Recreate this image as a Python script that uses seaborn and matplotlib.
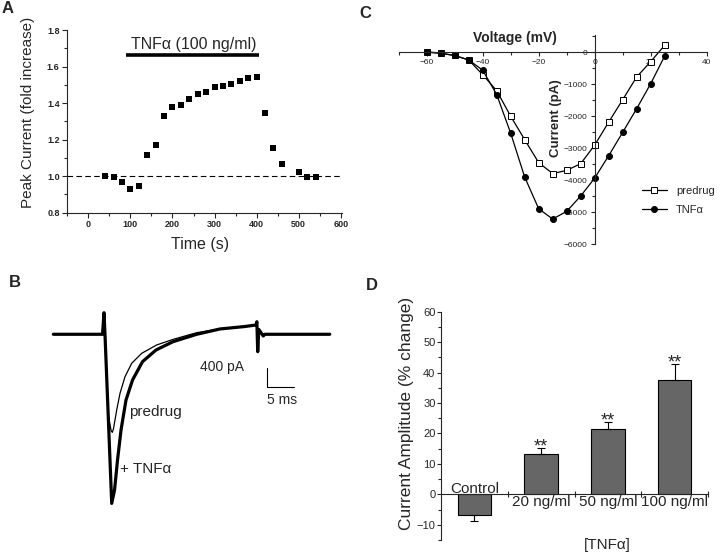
import matplotlib
matplotlib.use('Agg')
import matplotlib.pyplot as plt
import seaborn as sns
import pandas as pd
from matplotlib.ticker import MultipleLocator

# ---------------- data ----------------
# Panel A: time course of peak current
time_s = [40, 60, 80, 100, 120, 140, 160, 180, 200, 220, 240, 260, 280, 300,
          320, 340, 360, 380, 400, 420, 440, 460, 500, 520, 540]
fold_increase = [1.000, 0.995, 0.968, 0.928, 0.948, 1.114, 1.169, 1.329, 1.377,
                 1.389, 1.424, 1.448, 1.462, 1.486, 1.492, 1.506, 1.521, 1.539,
                 1.541, 1.347, 1.154, 1.065, 1.021, 0.995, 0.993]
a_xticks = [0, 100, 200, 300, 400, 500, 600]
a_yticks = [0.8, 1.0, 1.2, 1.4, 1.6, 1.8]
tnf_period_s = [90, 405]
tnf_bar_level = 1.663

# Panel C: I-V relationship
voltage_mV = [-60, -55, -50, -45, -40, -35, -30, -25, -20, -15, -10, -5, 0, 5, 10, 15, 20, 25]
predrug_pA = [20, -30, -100, -240, -700, -1200, -2000, -2730, -3450, -3790, -3690,
              -3480, -2900, -2180, -1480, -770, -290, 220]
tnf_pA = [0, -30, -100, -240, -560, -1320, -2530, -3900, -4890, -5210, -4970,
          -4490, -3930, -3230, -2500, -1760, -980, -115]
c_xticks = [-60, -40, -20, 0, 20, 40]
c_yticks = [-6000, -5000, -4000, -3000, -2000, -1000, 0]

# Panel B: current traces (ms, pA)
b_time_tnf = [0, 8.88, 9.15, 9.33, 10.54, 11.05, 11.59, 12.22, 13.12, 14.30, 16.10,
              18.54, 21.61, 25.88, 30.09, 34.6, 36.6, 36.75, 36.9, 37.1, 37.9, 38.2, 49.9]
b_curr_tnf = [0, 0, 447, -14, -3500, -3223, -2602, -1981, -1360, -946, -567,
              -325, -153, 0, 110, 161, 193, 260, -360, 100, -35, 0, 0]
b_time_pre = [0, 8.88, 9.15, 9.33, 9.95, 10.45, 10.65, 10.85, 11.44, 12.04, 12.94,
              14.15, 15.96, 18.66, 21.66, 25.88, 30.09, 34.6, 36.6, 36.75, 36.9,
              37.1, 37.9, 38.2, 49.9]
b_curr_pre = [0, 0, 447, -14, -1700, -2000, -2030, -1960, -1567, -1221, -878,
              -600, -393, -221, -104, 33, 110, 161, 193, 260, -360,
              100, -35, 0, 0]
scale_pA = 400
scale_ms = 5

# Panel D: concentration dependence
d_categories = ['Control', '20 ng/ml', '50 ng/ml', '100 ng/ml']
d_values = [-6.8, 13.3, 21.4, 37.5]
d_errors = [1.9, 1.8, 2.4, 5.4]
d_sig = ['', '**', '**', '**']
d_yticks = [-10, 0, 10, 20, 30, 40, 50, 60]

# ---------------- style ----------------
sns.set_style('ticks')
plt.rcParams['font.family'] = ['Liberation Sans', 'DejaVu Sans']
plt.rcParams['axes.linewidth'] = 0.8
plt.rcParams['xtick.major.width'] = 0.8
plt.rcParams['ytick.major.width'] = 0.8
plt.rcParams['xtick.minor.width'] = 0.8
plt.rcParams['ytick.minor.width'] = 0.8

W, H = 720, 555
fig = plt.figure(figsize=(7.2, 5.55), dpi=100)


def box(l, t, r, b):
    return [l / W, 1 - b / H, (r - l) / W, (b - t) / H]


def fxy(x, y):
    return x / W, 1 - y / H


# ---------------- Panel A ----------------
axA = fig.add_axes(box(67.3, 30, 341.6, 212.7))
dfA = pd.DataFrame({'time': time_s, 'fold': fold_increase})
sns.scatterplot(data=dfA, x='time', y='fold', marker='s', color='black', s=20,
                linewidth=0, ax=axA, zorder=3)
axA.set_xlim(-50, 602)
axA.set_ylim(0.8, 1.8)
axA.axhline(1.0, color='black', lw=0.8, ls=(0, (5, 3)))
axA.plot(tnf_period_s, [tnf_bar_level] * 2, color='black', lw=2.6, solid_capstyle='butt')
axA.text(sum(tnf_period_s) / 2 + 2, 1.718, 'TNFα (100 ng/ml)', ha='center', va='center', fontsize=11.5)
axA.set_xticks(a_xticks)
axA.set_yticks(a_yticks)
axA.set_yticklabels([f'{v:.1f}' for v in a_yticks])
axA.xaxis.set_minor_locator(MultipleLocator(50))
axA.yaxis.set_minor_locator(MultipleLocator(0.1))
axA.tick_params(which='major', length=3.5, labelsize=6.5, pad=2)
axA.tick_params(which='minor', length=2)
for lab in axA.get_xticklabels() + axA.get_yticklabels():
    lab.set_fontweight('bold')
sns.despine(ax=axA)
axA.set_xlabel('')
axA.set_ylabel('')
fig.text(*fxy(27.8, 112.5), 'Peak Current (fold increase)', rotation=90, ha='center', va='center', fontsize=11)
fig.text(*fxy(200, 245), 'Time (s)', ha='center', va='center', fontsize=11.5)

# ---------------- Panel C ----------------
axC = fig.add_axes(box(398.7, 34.7, 706.7, 244.3))
sns.lineplot(x=voltage_mV, y=predrug_pA, ax=axC, color='black', lw=0.9, marker='s',
             markersize=3.8, markerfacecolor='white', markeredgecolor='black',
             markeredgewidth=0.7, label='predrug')
sns.lineplot(x=voltage_mV, y=tnf_pA, ax=axC, color='black', lw=0.9, marker='o',
             markersize=4.3, markerfacecolor='black', markeredgecolor='black',
             markeredgewidth=0.7, label='TNFα')
axC.set_xlim(-70, 40)
axC.set_ylim(-6000, 550)
axC.spines['left'].set_position(('data', 0))
axC.spines['bottom'].set_position(('data', 0))
axC.spines['top'].set_visible(False)
axC.spines['right'].set_visible(False)
axC.set_xticks(c_xticks)
axC.set_yticks(c_yticks)
axC.xaxis.set_minor_locator(MultipleLocator(10))
axC.yaxis.set_minor_locator(MultipleLocator(500))
axC.tick_params(which='major', length=3, labelsize=6, pad=2)
axC.tick_params(which='minor', length=2)
axC.set_xlabel('')
axC.set_ylabel('')
handles, labels = axC.get_legend_handles_labels()
axC.legend(handles, labels, loc='center left', bbox_to_anchor=fxy(641.7, 200.5),
           bbox_transform=fig.transFigure, frameon=False, fontsize=8,
           handlelength=2.3, handletextpad=0.8, labelspacing=0.8,
           borderpad=0, borderaxespad=0)
fig.text(*fxy(515, 38), 'Voltage (mV)', ha='center', va='center', fontsize=10, fontweight='bold')
fig.text(*fxy(556, 118), 'Current (pA)', rotation=90, ha='center', va='center', fontsize=9.5, fontweight='bold')

# ---------------- Panel B ----------------
axB = fig.add_axes(box(47.8, 290.8, 335.8, 517.9))
sns.lineplot(x=b_time_tnf, y=b_curr_tnf, sort=False, estimator=None, color='black',
             lw=2.3, ax=axB)
sns.lineplot(x=b_time_pre, y=b_curr_pre, sort=False, estimator=None, color='black',
             lw=0.9, ax=axB)
axB.set_xlim(-1, 51)
axB.set_ylim(-3800, 900)
axB.axis('off')
sb_x, sb_y = 38.5, -1097
axB.plot([sb_x, sb_x, sb_x + scale_ms], [sb_y + scale_pA, sb_y, sb_y], color='black', lw=0.8)
fig.text(*fxy(222.5, 366.7), f'{scale_pA} pA', ha='center', va='center', fontsize=10)
fig.text(*fxy(282.5, 400), f'{scale_ms} ms', ha='center', va='center', fontsize=10)
fig.text(*fxy(129.5, 412), 'predrug', ha='left', va='center', fontsize=11)
fig.text(*fxy(120, 469), '+ TNFα', ha='left', va='center', fontsize=11)

# ---------------- Panel D ----------------
axD = fig.add_axes(box(441, 311.7, 708, 540))
sns.barplot(x=d_categories, y=d_values, color='#666666', edgecolor='black',
            linewidth=0.8, width=0.5, errorbar=None, saturation=1, ax=axD)
lower = [e if v < 0 else 0 for v, e in zip(d_values, d_errors)]
upper = [e if v > 0 else 0 for v, e in zip(d_values, d_errors)]
axD.errorbar(range(len(d_values)), d_values, yerr=[lower, upper], fmt='none',
             ecolor='black', elinewidth=0.8, capsize=3, capthick=0.8)
axD.set_xlim(-0.5, 3.5)
axD.set_ylim(-15, 60)
axD.spines['bottom'].set_position(('data', 0))
axD.spines['top'].set_visible(False)
axD.spines['right'].set_visible(False)
axD.set_yticks(d_yticks)
axD.yaxis.set_minor_locator(MultipleLocator(5))
axD.set_xticks(range(len(d_categories)))
axD.set_xticklabels([''] + d_categories[1:], fontsize=11)
axD.set_xticks([0.5, 1.5, 2.5, 3.5], minor=True)
axD.tick_params(axis='x', which='major', length=0, pad=0.5)
axD.tick_params(axis='x', which='minor', length=5, direction='inout')
axD.tick_params(axis='y', which='major', length=3, labelsize=8, pad=1)
axD.tick_params(axis='y', which='minor', length=2)
axD.text(0, 0.5, d_categories[0], ha='center', va='baseline', fontsize=11)
for i, (v, e, s) in enumerate(zip(d_values, d_errors, d_sig)):
    if s:
        axD.text(i, v + e + 0.4, s, ha='center', va='center', fontsize=13)
axD.set_xlabel('')
axD.set_ylabel('')
fig.text(*fxy(407, 413), 'Current Amplitude (% change)', rotation=90, ha='center', va='center', fontsize=12.5)
fig.text(*fxy(607, 545), '[TNFα]', ha='center', va='center', fontsize=11)

# ---------------- panel letters ----------------
for letter, (px, py) in {'A': (7.5, 8.5), 'B': (15.3, 282.5), 'C': (365, 13), 'D': (372, 286)}.items():
    fig.text(*fxy(px, py), letter, ha='center', va='center', fontsize=12, fontweight='bold')

fig.savefig('out.png', dpi=100)
